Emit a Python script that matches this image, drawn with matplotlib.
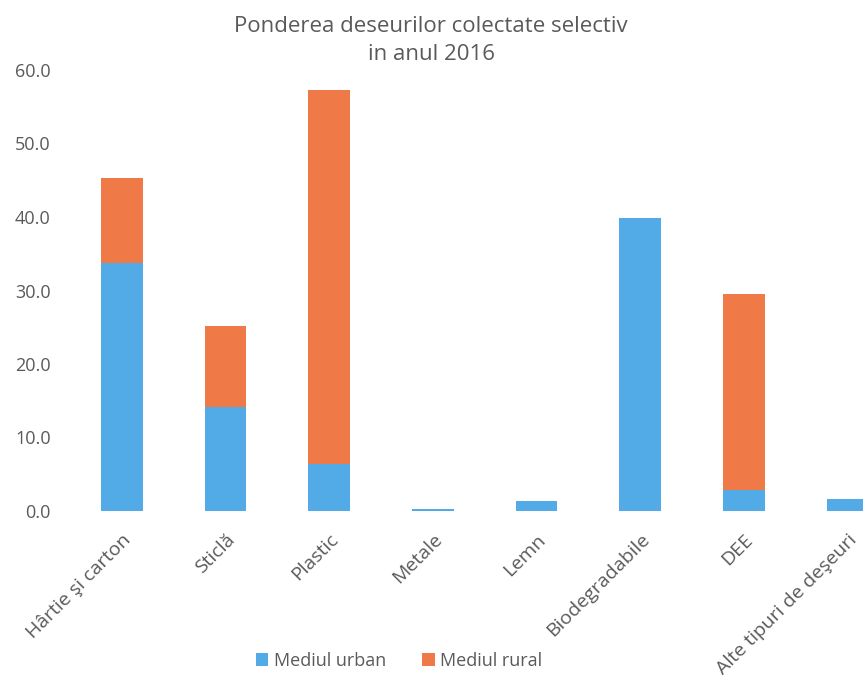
import numpy as np
import matplotlib.pyplot as plt

# Data
categories = ['Hârtie şi carton', 'Sticlă', 'Plastic', 'Metale', 'Lemn',
              'Biodegradabile', 'DEE', 'Alte tipuri de deşeuri']
urban = [33.7, 14.1, 6.4, 0.3, 1.4, 39.9, 2.9, 1.6]
rural = [11.6, 11.1, 50.9, 0.0, 0.0, 0.0, 26.6, 0.0]
y_ticks = [0, 10, 20, 30, 40, 50, 60]

blue = '#52abe6'
orange = '#ef7a48'
grey = '#5a5a5a'

plt.rcParams['font.family'] = ['Open Sans', 'DejaVu Sans']

fig = plt.figure(figsize=(8.63, 6.84), dpi=100)
# plot area runs past the right edge, like the cropped scan
ax = fig.add_axes([70 / 863, 1 - 511 / 684, 793 / 863, 441 / 684])

x = np.arange(len(categories))
ax.bar(x, urban, width=0.4, color=blue, label='Mediul urban')
ax.bar(x, rural, width=0.4, bottom=urban, color=orange, label='Mediul rural')

ax.set_xlim(-0.5, 7.15)
ax.set_ylim(0, 60)
ax.set_yticks(y_ticks)
ax.set_yticklabels([f'{v:.1f}' for v in y_ticks], fontsize=13, color=grey)
ax.set_xticks(x)
ax.set_xticklabels(categories, rotation=45, ha='right', rotation_mode='anchor',
                   fontsize=14, color=grey)
ax.tick_params(axis='both', length=0)
ax.tick_params(axis='y', pad=14)
ax.tick_params(axis='x', pad=14)
for s in ax.spines.values():
    s.set_visible(False)

fig.text(431 / 863, 1 - 27 / 684, 'Ponderea deseurilor colectate selectiv',
         ha='center', va='center', fontsize=16, color=grey)
fig.text(431 / 863, 1 - 55 / 684, 'in anul 2016',
         ha='center', va='center', fontsize=16, color=grey)

fig.legend(loc='center', bbox_to_anchor=(399 / 863, 1 - 661 / 684), ncol=2,
           frameon=False, fontsize=13, labelcolor=grey, handlelength=0.7,
           handleheight=0.7, handletextpad=0.3, columnspacing=2.0)

fig.savefig('out.png', dpi=100)
